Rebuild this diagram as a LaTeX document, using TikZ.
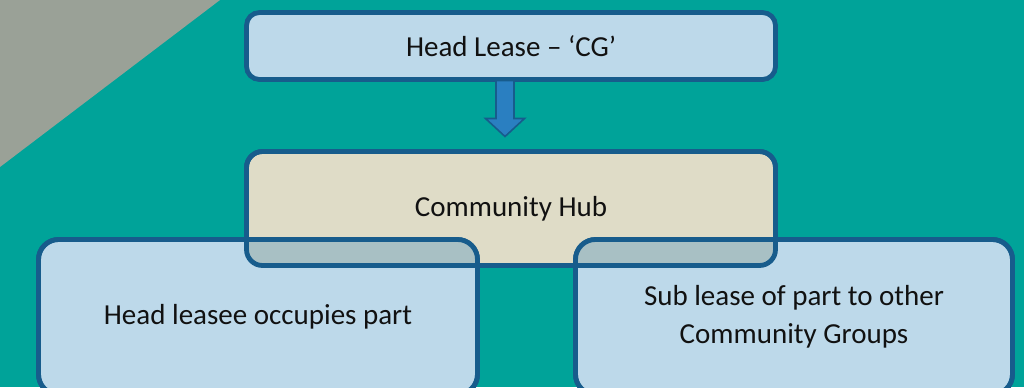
\documentclass[tikz,border=0pt]{standalone}
\usepackage{fontspec}
\setmainfont{Carlito}
\usetikzlibrary{calc}
\definecolor{teal0}{HTML}{00A399}
\definecolor{grey0}{HTML}{9AA197}
\definecolor{border0}{HTML}{175C8C}
\definecolor{lblue}{HTML}{BDD9EA}
\definecolor{beige0}{HTML}{DFDCC7}
\definecolor{overlap0}{HTML}{A8C0C4}
\definecolor{arrowfill}{HTML}{2A7FC1}
\definecolor{txt}{HTML}{111111}
\tikzset{
  box/.style={rectangle, draw=border0, line width=2.4pt, outer sep=0pt, inner sep=0pt,
    align=center, text=txt, font=\fontsize{14.5}{17.5}\selectfont},
  topbox/.style={box, fill=lblue, rounded corners=6.5pt, minimum width=264.5pt, minimum height=33.5pt},
  hubbox/.style={box, fill=beige0, rounded corners=8pt, minimum width=264.5pt, minimum height=57pt},
  lowbox/.style={box, fill=lblue, rounded corners=10pt, minimum height=77.5pt},
  blockarrow/.style={draw=border0, line width=0.8pt, fill=arrowfill, line join=miter},
  rim/.style={draw=border0, line width=2.4pt}
}
\begin{document}
\begin{tikzpicture}[x=0.5pt,y=-0.5pt]
\useasboundingbox (0,0) rectangle (1024,387);
\clip (0,0) rectangle (1024,387);
\fill[teal0] (0,0) rectangle (1024,387);
\fill[grey0] (0,0) -- (220,0) -- (0,167) -- cycle;

\node[topbox] (head) at (511,46) {Head Lease – ‘CG’};
\node[hubbox] (hub) at (511,208.5) {Community Hub};
\node[lowbox, minimum width=219.5pt] (left) at (258,317) {Head leasee occupies part};
\node[lowbox, minimum width=218.5pt] (right) at (794,317) {Sub lease of part to other\\[1.5pt]Community Groups};

% overlap tint
\begin{scope}
  \clip[rounded corners=8pt] (hub.north west) rectangle (hub.south east);
  \fill[overlap0, rounded corners=10pt] (left.north west) rectangle (left.south east);
  \fill[overlap0, rounded corners=10pt] (right.north west) rectangle (right.south east);
\end{scope}
\draw[rim, rounded corners=8pt] (hub.north west) rectangle (hub.south east);
\draw[rim, rounded corners=10pt] (left.north west) rectangle (left.south east);
\draw[rim, rounded corners=10pt] (right.north west) rectangle (right.south east);

% block arrow from head to hub
\coordinate (as) at ($(head.south)+(-6,1)$);
\coordinate (ae) at ($(hub.north)+(-6,-15)$);
\draw[blockarrow] ($(as)+(-9,0)$) -- ($(as)+(9,0)$) -- ($(ae)+(9,-18)$) -- ($(ae)+(19.5,-18)$)
  -- (ae) -- ($(ae)+(-19.5,-18)$) -- ($(ae)+(-9,-18)$) -- cycle;
\end{tikzpicture}
\end{document}
